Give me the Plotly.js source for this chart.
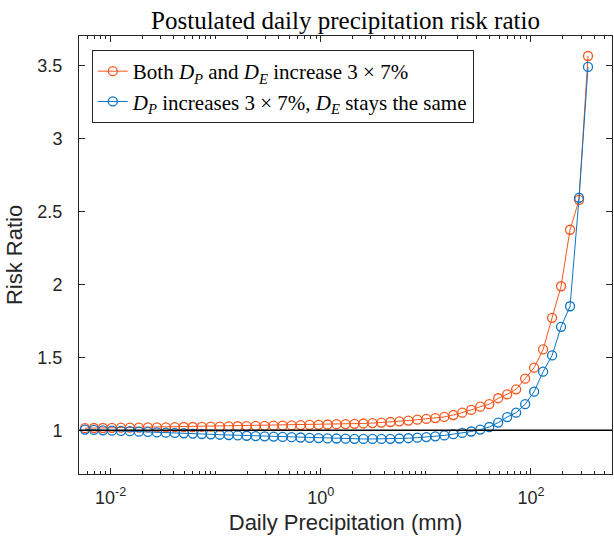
<!DOCTYPE html>
<html>
<head>
<meta charset="utf-8">
<script src="https://cdn.plot.ly/plotly-3.0.1.min.js"></script>
<style>
  html, body { margin: 0; padding: 0; background: #ffffff; }
  #chart { width: 614px; height: 546px; }
</style>
</head>
<body>
<div id="chart"></div>
<script>
// Daily precipitation (mm), log-spaced sample points
const precip = [
  0.00570, 0.00694, 0.00845, 0.01029, 0.01253, 0.01525, 0.01857, 0.02261, 0.02753, 0.03351,
  0.04080, 0.04968, 0.06048, 0.07364, 0.08966, 0.1092, 0.1329, 0.1618, 0.1970, 0.2399,
  0.2921, 0.3556, 0.4329, 0.5271, 0.6418, 0.7814, 0.9513, 1.158, 1.410, 1.717,
  2.090, 2.545, 3.099, 3.773, 4.593, 5.592, 6.809, 8.290, 10.09, 12.29,
  14.96, 18.22, 22.18, 27.00, 32.88, 40.03, 48.73, 59.33, 72.24, 87.95,
  107.1, 130.4, 158.7, 193.2, 235.3, 286.5, 348.8
];

// Both D_P and D_E increase 3 x 7%
const riskBoth = [
  1.014, 1.015, 1.015, 1.016, 1.017, 1.017, 1.018, 1.019, 1.019, 1.020,
  1.021, 1.022, 1.022, 1.023, 1.024, 1.025, 1.026, 1.027, 1.028, 1.029,
  1.030, 1.031, 1.032, 1.033, 1.035, 1.036, 1.037, 1.039, 1.041, 1.042,
  1.044, 1.046, 1.049, 1.052, 1.056, 1.061, 1.066, 1.072, 1.077, 1.083,
  1.091, 1.104, 1.120, 1.139, 1.161, 1.178, 1.219, 1.246, 1.280, 1.353,
  1.428, 1.553, 1.770, 1.986, 2.373, 2.578, 3.563
];

// D_P increases 3 x 7%, D_E stays the same
const riskDpOnly = [
  1.004, 1.002, 0.999, 0.997, 0.995, 0.993, 0.990, 0.988, 0.985, 0.983,
  0.981, 0.979, 0.977, 0.974, 0.972, 0.969, 0.967, 0.964, 0.962, 0.960,
  0.958, 0.956, 0.954, 0.952, 0.950, 0.948, 0.946, 0.944, 0.943, 0.942,
  0.941, 0.940, 0.940, 0.940, 0.941, 0.943, 0.945, 0.949, 0.953, 0.958,
  0.964, 0.973, 0.981, 0.991, 1.004, 1.022, 1.052, 1.090, 1.120, 1.178,
  1.264, 1.401, 1.512, 1.708, 1.849, 2.592, 3.488
];

const seriesNames = [
  'Both <i>D<sub>P</sub></i> and <i>D<sub>E</sub></i> increase 3 × 7%',
  '<i>D<sub>P</sub></i> increases 3 × 7%, <i>D<sub>E</sub></i> stays the same'
];

const xTickVals = [0.01, 1, 100];
const xTickText = ['10<sup>-2</sup>', '10<sup>0</sup>', '10<sup>2</sup>'];
const yTickVals = [1, 1.5, 2, 2.5, 3, 3.5];
const yTickText = ['1', '1.5', '2', '2.5', '3', '3.5'];
const refLevel = 1;

const orange = '#F8561C';
const blue = '#0B74C4';
const axisCol = '#262626';
const sans = 'Liberation Sans, Arial, Helvetica, sans-serif';
const serif = 'Liberation Serif, serif';

const traces = [
  {
    x: precip, y: riskBoth, name: seriesNames[0], type: 'scatter', mode: 'lines+markers',
    line: { color: orange, width: 1 },
    marker: { symbol: 'circle-open', size: 9, color: orange, line: { width: 1.3, color: orange } }
  },
  {
    x: precip, y: riskDpOnly, name: seriesNames[1], type: 'scatter', mode: 'lines+markers',
    line: { color: blue, width: 1 },
    marker: { symbol: 'circle-open', size: 9, color: blue, line: { width: 1.3, color: blue } }
  }
];

const layout = {
  width: 614, height: 546,
  margin: { l: 79, r: 2, t: 36, b: 72, pad: 0 },
  paper_bgcolor: '#ffffff', plot_bgcolor: '#ffffff',
  showlegend: true,
  title: {
    text: 'Postulated daily precipitation risk ratio',
    font: { family: serif, size: 25, color: '#000000' },
    x: 0.5, xref: 'paper', xanchor: 'center',
    y: 1, yref: 'paper', yanchor: 'bottom', pad: { b: 7 }
  },
  xaxis: {
    type: 'log',
    range: [Math.log10(0.005), Math.log10(590)],
    tickmode: 'array', tickvals: xTickVals, ticktext: xTickText,
    ticks: 'inside', ticklen: 6, tickwidth: 1, tickcolor: axisCol,
    minor: { ticks: 'inside', ticklen: 3, tickcolor: axisCol, dtick: 'D1', showgrid: false },
    showline: true, linecolor: axisCol, linewidth: 1, mirror: 'ticks',
    showgrid: false, zeroline: false,
    tickfont: { family: sans, size: 18, color: axisCol },
    ticklabelstandoff: 7,
    title: { text: 'Daily Precipitation (mm)', font: { family: sans, size: 22, color: axisCol }, standoff: 8 }
  },
  yaxis: {
    range: [0.7, 3.7],
    tickmode: 'array', tickvals: yTickVals, ticktext: yTickText,
    ticks: 'inside', ticklen: 6, tickwidth: 1, tickcolor: axisCol,
    showline: true, linecolor: axisCol, linewidth: 1, mirror: 'ticks',
    showgrid: false, zeroline: false,
    tickfont: { family: sans, size: 18, color: axisCol },
    ticklabelstandoff: 12,
    title: { text: 'Risk Ratio', font: { family: sans, size: 22, color: axisCol }, standoff: 8 }
  },
  legend: {
    x: 0.024, y: 0.968, xanchor: 'left', yanchor: 'top',
    bgcolor: '#ffffff', bordercolor: axisCol, borderwidth: 1,
    font: { family: serif, size: 21, color: '#000000' },
    tracegroupgap: 0, itemwidth: 30
  },
  shapes: [
    { type: 'line', xref: 'paper', x0: 0, x1: 1, yref: 'y', y0: refLevel, y1: refLevel,
      line: { color: '#000000', width: 1.5 }, layer: 'above' }
  ]
};

Plotly.newPlot('chart', traces, layout, { displayModeBar: false, staticPlot: true });
</script>
</body>
</html>
